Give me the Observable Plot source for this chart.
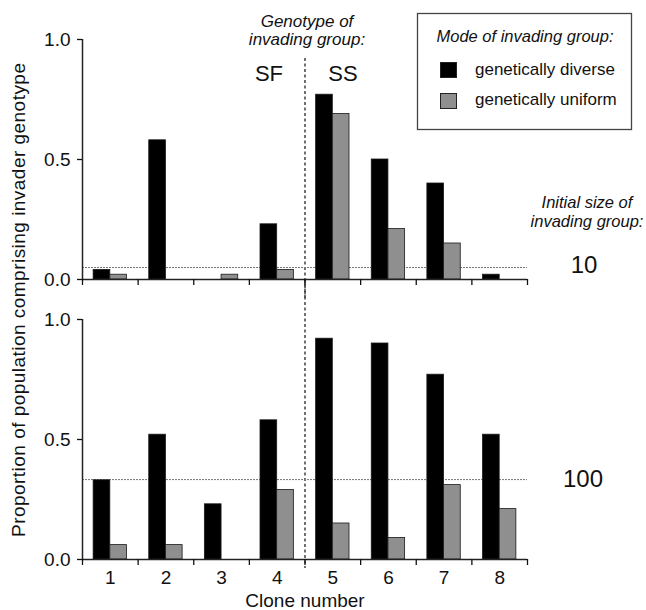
<!DOCTYPE html>
<html><head><meta charset="utf-8">
<script src="https://cdn.jsdelivr.net/npm/d3@7"></script>
<script src="https://cdn.jsdelivr.net/npm/@observablehq/plot@0.6"></script>
<style>
body{margin:0;background:#fff;}
#wrap{position:relative;width:646px;height:610px;font-family:"Liberation Sans",Arial,sans-serif;}
#wrap svg{position:absolute;left:0;}
</style></head><body><div id="wrap"></div>
<script>
// ---- data ----
const clones = [1, 2, 3, 4, 5, 6, 7, 8];
const cloneBoundaries = [0.5, 1.5, 2.5, 3.5, 4.5, 5.5, 6.5, 7.5, 8.5];
const genotypeSplit = 4.5;           // SF clones 1-4 | SS clones 5-8
const yTicks = [0, 0.5, 1.0];
const modes = ["genetically diverse", "genetically uniform"];
const sizes = ["10", "100"];
const diverse10  = [0.04, 0.58, 0.00, 0.23, 0.77, 0.50, 0.40, 0.02];
const uniform10  = [0.02, 0.00, 0.02, 0.04, 0.69, 0.21, 0.15, 0.00];
const diverse100 = [0.33, 0.52, 0.23, 0.58, 0.92, 0.90, 0.77, 0.52];
const uniform100 = [0.06, 0.06, 0.00, 0.29, 0.15, 0.09, 0.31, 0.21];
const initialShare = [0.05, 0.333];
const genotypes = ["SF", "SS"];
const yLabel = "Proportion of population comprising invader genotype";
const xLabel = "Clone number";

const FONT = '"Liberation Sans", Arial, sans-serif';
const wrap = document.getElementById("wrap");

function rowsOf(div, uni) {
  return clones.flatMap((c, i) => [
    {clone: c, mode: modes[0], value: div[i]},
    {clone: c, mode: modes[1], value: uni[i]}
  ]).filter(d => d.value > 0);
}

function panel({div, uni, share, top, height, marginBottom, showLabels, ruleInsetTop, ruleInsetBottom}) {
  const marks = [
    Plot.ruleX([genotypeSplit], {stroke: "#111", strokeWidth: 1.2, strokeDasharray: "3,2.5", insetTop: ruleInsetTop, insetBottom: ruleInsetBottom}),
    Plot.ruleY([share], {stroke: "#777", strokeWidth: 1, strokeDasharray: "2,1"}),
    Plot.rect(rowsOf(div, uni), {
      x1: d => d.clone + (d.mode === modes[0] ? -0.3 : 0),
      x2: d => d.clone + (d.mode === modes[0] ? 0 : 0.3),
      y1: () => 0, y2: "value",
      fill: "mode", stroke: "#1a1a1a", strokeWidth: 0.8
    }),
    Plot.ruleY([0], {stroke: "#222", strokeWidth: 1.5}),
    Plot.ruleX([cloneBoundaries[0]], {stroke: "#222", strokeWidth: 1.5}),
    Plot.axisY({ticks: yTicks, tickFormat: d3.format(".1f"), tickSize: 5, tickPadding: 7, label: null, fontSize: 19, strokeWidth: 1.3}),
    Plot.axisX({ticks: cloneBoundaries, tickFormat: () => "", tickSize: 6, label: null, strokeWidth: 1.3})
  ];
  if (showLabels) {
    marks.push(Plot.axisX({ticks: clones, tickFormat: d => String(d), tickSize: 0, tickPadding: 11, label: null, fontSize: 19}));
  }
  const svg = Plot.plot({
    width: 646, height, marginLeft: 82, marginRight: 119, marginTop: 39, marginBottom,
    x: {domain: [0.5, 8.5]},
    y: {domain: [0, 1]},
    color: {domain: modes, range: ["#000000", "#8f8f8f"]},
    style: {background: "transparent", overflow: "visible", fontFamily: FONT, fontSize: "19px", color: "#111"},
    marks
  });
  svg.style.top = top + "px";
  wrap.appendChild(svg);
}

panel({div: diverse10, uni: uniform10, share: initialShare[0], top: 0, height: 299, marginBottom: 20, showLabels: false, ruleInsetTop: 19, ruleInsetBottom: -20});
panel({div: diverse100, uni: uniform100, share: initialShare[1], top: 280, height: 330, marginBottom: 51, showLabels: true, ruleInsetTop: -39, ruleInsetBottom: -9});

// ---- annotations overlay ----
const ov = d3.select(wrap).append("svg")
  .attr("width", 646).attr("height", 610)
  .style("top", "0px").style("pointer-events", "none")
  .style("font-family", FONT).attr("fill", "#111");

function txt(x, y, s, size, opts = {}) {
  const t = ov.append("text").attr("x", x).attr("y", y).text(s)
    .attr("font-size", size).attr("text-anchor", opts.anchor || "middle");
  if (opts.italic) t.attr("font-style", "italic");
  return t;
}

txt(307, 27, "Genotype of", 17, {italic: true});
txt(307, 45, "invading group:", 17, {italic: true});
txt(269, 81, genotypes[0], 22);
txt(343, 81, genotypes[1], 22);

// legend
ov.append("rect").attr("x", 417.5).attr("y", 13.5).attr("width", 214).attr("height", 116)
  .attr("fill", "none").attr("stroke", "#444").attr("stroke-width", 1.3);
txt(525, 42, "Mode of invading group:", 16.5, {italic: true});
const sw = [["#000000", 62, 75], ["#8f8f8f", 93, 105]];
modes.forEach((m, i) => {
  ov.append("rect").attr("x", 440.5).attr("y", sw[i][1] + 0.5).attr("width", 16).attr("height", 15)
    .attr("fill", sw[i][0]).attr("stroke", "#222").attr("stroke-width", 1);
  txt(475, sw[i][2], m, 17, {anchor: "start"});
});

txt(587, 208, "Initial size of", 16.5, {italic: true});
txt(587, 227, "invading group:", 16.5, {italic: true});
txt(584, 273, sizes[0], 24);
txt(583, 487, sizes[1], 24);

txt(305, 607, xLabel, 19);
ov.append("text").attr("transform", "translate(25,300) rotate(-90)")
  .attr("text-anchor", "middle").attr("font-size", 19)
  .attr("textLength", 474).attr("lengthAdjust", "spacing").text(yLabel);
</script></body></html>
